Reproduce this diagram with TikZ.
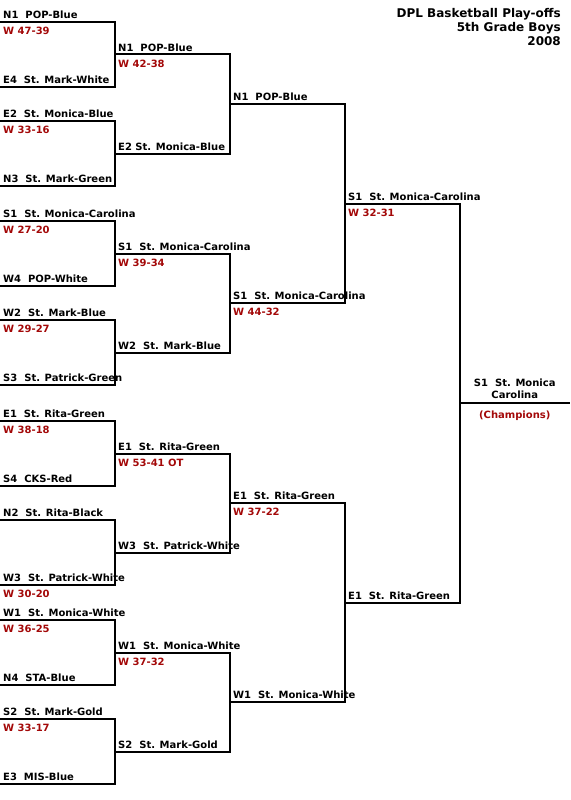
\documentclass[tikz,border=0pt]{standalone}
\usepackage{fontspec}
\setmainfont{DejaVu Sans}
\usetikzlibrary{positioning}
\definecolor{scorered}{RGB}{163,8,8}

\begin{document}
\begin{tikzpicture}[
x=1pt,y=1pt,
grow=left,
level distance=115pt,
level 1/.style={sibling distance=399pt},
level 2/.style={sibling distance=199pt},
level 3/.style={sibling distance=99pt},
level 4/.style={sibling distance=65pt},
edge from parent/.style={draw,line width=2pt,line cap=rect},
edge from parent path={(\tikzparentnode) |- (\tikzchildnode)},
slot/.style={shape=coordinate},
teamtxt/.style={inner sep=0pt,text depth=0pt,xshift=3.5pt,yshift=3pt,font=\bfseries\fontsize{10pt}{12pt}\selectfont},
scoretxt/.style={inner sep=0pt,text height=7.3pt,text depth=0pt,xshift=3.5pt,yshift=-5.4pt,text=scorered,font=\bfseries\fontsize{10pt}{12pt}\selectfont},
team/.style={label={[teamtxt]above right:#1}},
score/.style={label={[scoretxt]below right:#1}},
heading/.style={anchor=north east,align=right,inner sep=0pt,font=\bfseries\fontsize{12pt}{14pt}\selectfont}
]
\useasboundingbox (0,0) rectangle (570,-800);
\node[heading] (title) at (561,-8.5) {DPL Basketball Play-offs\\5th Grade Boys\\2008};
\node[slot] (champ) at (459.5,-403) {}
child{node[slot,team={S1~~St. Monica-Carolina},score={W 32-31}] (r4a) {}
child{node[slot,team={N1~~POP-Blue}] (r3a) {}
child{node[slot,team={N1~~POP-Blue},score={W 42-38}] (r2a) {}
child{node[slot,team={N1~~POP-Blue},score={W 47-39}] (r1a) {}}
child{node[slot,team={E4~~St. Mark-White}] (r1b) {}}
}
child{node[slot,team={E2 St. Monica-Blue}] (r2b) {}
child{node[slot,team={E2~~St. Monica-Blue},score={W 33-16}] (r1c) {}}
child{node[slot,team={N3~~St. Mark-Green}] (r1d) {}}
}
}
child{node[slot,team={S1~~St. Monica-Carolina},score={W 44-32}] (r3b) {}
child{node[slot,team={S1~~St. Monica-Carolina},score={W 39-34}] (r2c) {}
child{node[slot,team={S1~~St. Monica-Carolina},score={W 27-20}] (r1e) {}}
child{node[slot,team={W4~~POP-White}] (r1f) {}}
}
child{node[slot,team={W2~~St. Mark-Blue}] (r2d) {}
child{node[slot,team={W2~~St. Mark-Blue},score={W 29-27}] (r1g) {}}
child{node[slot,team={S3~~St. Patrick-Green}] (r1h) {}}
}
}
}
child{node[slot,team={E1~~St. Rita-Green}] (r4b) {}
child{node[slot,team={E1~~St. Rita-Green},score={W 37-22}] (r3c) {}
child{node[slot,team={E1~~St. Rita-Green},score={W 53-41 OT}] (r2e) {}
child{node[slot,team={E1~~St. Rita-Green},score={W 38-18}] (r1i) {}}
child{node[slot,team={S4~~CKS-Red}] (r1j) {}}
}
child{node[slot,team={W3~~St. Patrick-White}] (r2f) {}
child{node[slot,team={N2~~St. Rita-Black}] (r1k) {}}
child{node[slot,team={W3~~St. Patrick-White},score={W 30-20}] (r1l) {}}
}
}
child{node[slot,team={W1~~St. Monica-White}] (r3d) {}
child{node[slot,team={W1~~St. Monica-White},score={W 37-32}] (r2g) {}
child{node[slot,team={W1~~St. Monica-White},score={W 36-25}] (r1m) {}}
child{node[slot,team={N4~~STA-Blue}] (r1n) {}}
}
child{node[slot,team={S2~~St. Mark-Gold}] (r2h) {}
child{node[slot,team={S2~~St. Mark-Gold},score={W 33-17}] (r1o) {}}
child{node[slot,team={E3~~MIS-Blue}] (r1p) {}}
}
}
};
% champion line
\coordinate (champend) at (570,-403);
\draw[line width=2pt] (champ) -- (champend)
node[midway,above,align=center,inner sep=0pt,yshift=3.7pt,font=\bfseries\fontsize{10pt}{11.6pt}\selectfont] (champname) {S1~~St. Monica\\Carolina}
node[midway,below,inner sep=0pt,text height=7.3pt,yshift=-7pt,text=scorered,font=\bfseries\fontsize{10pt}{12pt}\selectfont] (champnote) {(Champions)};
\end{tikzpicture}
\end{document}
